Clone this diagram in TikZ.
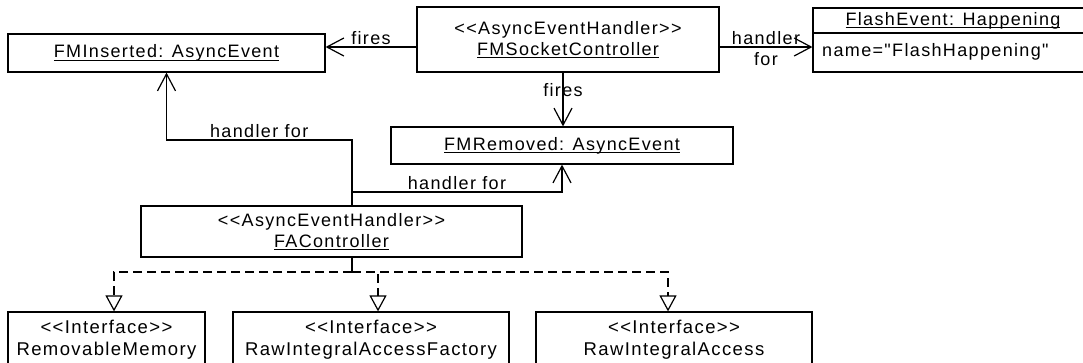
\documentclass[tikz,border=0pt]{standalone}
\usepackage{fontspec}
\setmainfont{Liberation Sans}[LetterSpace=7.5, Ligatures=TeXOff]
\usetikzlibrary{arrows.meta}
\newcommand\ulin[1]{\setbox0\hbox{#1}\rlap{\rule[-2.8pt]{\wd0}{0.9pt}}\box0}
\begin{document}
\begin{tikzpicture}[x=1pt,y=-1pt,
  box/.style={draw, line width=1.2pt, rectangle, inner sep=0pt, align=center, font=\fontsize{18}{21}\selectfont},
  ibox/.style={box, font=\fontsize{18.5}{22}\selectfont},
  txt/.style={inner sep=0pt, font=\fontsize{18}{21}\selectfont},
  lbl/.style={font=\fontsize{18}{20}\selectfont, inner sep=1.5pt},
  assoc/.style={line width=1.2pt, -{Straight Barb[length=17pt,width=18pt,line width=1.2pt]}},
  real/.style={line width=1.2pt, dash pattern=on 9pt off 5pt, -{Triangle[open,length=16pt,width=17pt,line width=1.2pt,fill=white]}},
  solidline/.style={line width=1.2pt}]
\clip (0,0) rectangle (1083,362);
% nodes
\node[box, minimum width=317, minimum height=38] (fmi) at (166.5,53) {\ulin{FMInserted: AsyncEvent}};
\node[box, minimum width=302, minimum height=65] (fms) at (568,39.5) {<<AsyncEventHandler>>\\\ulin{FMSocketController}};
\node[box, minimum width=280, minimum height=64] (fe) at (953,40) {};
\coordinate (fediv) at (813,33);
\draw[solidline] (fediv) -- (fe.east |- fediv);
\node[txt] (fetitle) at (953,20.5) {\ulin{FlashEvent: Happening}};
\node[txt, anchor=west] (feattr) at (822,52) {name="FlashHappening"};
\node[box, minimum width=342, minimum height=37] (fmr) at (562,145.5) {\ulin{FMRemoved: AsyncEvent}};
\node[box, minimum width=381, minimum height=51] (fa) at (331.5,231.5) {<<AsyncEventHandler>>\\\ulin{FAController}};
\node[ibox, minimum width=197, minimum height=56] (rm) at (106.5,340) {<<Interface>>\\RemovableMemory};
\node[ibox, minimum width=276, minimum height=56] (riaf) at (371,340) {<<Interface>>\\RawIntegralAccessFactory};
\node[ibox, minimum width=276, minimum height=56] (ria) at (674,340) {<<Interface>>\\RawIntegralAccess};
% associations
\draw[assoc] (fms.west |- 0,47) -- node[lbl, above] (l1) {fires} (fmi.east |- 0,47);
\draw[assoc] (fms.east |- 0,47) -- node[lbl, above] (l2) {handler} node[lbl, below, yshift=-3pt] (l3) {for} (fe.west |- 0,47);
\draw[assoc] (fms.south -| 563,0) -- node[lbl, pos=0.33] (l4) {fires} (fmr.north -| 563,0);
\draw[assoc] (fa.north -| 352,0) |- node[lbl, above, pos=0.75] (l5) {handler for} (fmi.south |- 0,140) -- (fmi.south);
\draw[assoc] (fa.north -| 352,0) |- node[lbl, above, pos=0.75] (l6) {handler for} (fmr.south |- 0,192) -- (fmr.south);
% realizations
\coordinate (split) at (352,272);
\draw[solidline] (fa.south -| split) -- (split);
\draw[real] (split) -| (rm.north -| 114,0);
\draw[real] (split) -| (riaf.north -| 378,0);
\draw[real] (split) -| (ria.north -| 668,0);
\end{tikzpicture}
\end{document}
